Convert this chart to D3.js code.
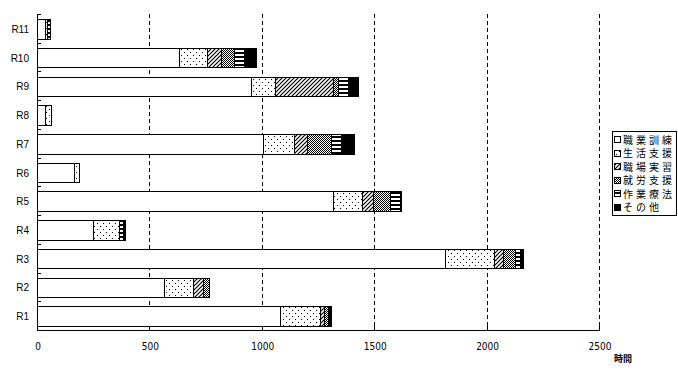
<!DOCTYPE html>
<html><head><meta charset="utf-8">
<script src="https://cdn.jsdelivr.net/npm/d3@7/dist/d3.min.js"></script>
<style>body{margin:0;background:#fff}svg{display:block}</style>
</head><body>
<svg id="c" width="678" height="380"></svg>
<script>
const categories = ["R1","R2","R3","R4","R5","R6","R7","R8","R9","R10","R11"];
const seriesNames = ["職業訓練","生活支援","職場実習","就労支援","作業療法","その他"];
const shokugyoKunren = [1081,569,1815,250,1318,165,1007,39,952,632,39];
const seikatsuShien  = [182,126,218,119,129,22,137,26,111,128,9];
const shokubaJisshu  = [18,44,40,0,52,0,61,0,254,62,0];
const shuroShien     = [15,27,55,0,75,0,104,0,25,58,0];
const sagyoRyoho     = [0,0,22,18,41,4,47,0,44,44,10];
const sonota         = [15,0,13,8,5,0,58,0,46,53,0];
const xTicks = [0,500,1000,1500,2000,2500];

const seriesValues = [shokugyoKunren, seikatsuShien, shokubaJisshu, shuroShien, sagyoRyoho, sonota];
const rows = categories.map((c,i)=>{const o={cat:c}; seriesNames.forEach((s,j)=>o[s]=seriesValues[j][i]); return o;});

const svg = d3.select("#c");
const L=37, R=599, T=14, B=330;
const x = d3.scaleLinear().domain([0,2500]).range([L,R]);
const y = d3.scaleBand().domain(categories.slice().reverse()).range([T,B]).paddingInner(0.32).paddingOuter(0.16);

// patterns
const defs = svg.append("defs");
function pat(id,w,h,fn){const p=defs.append("pattern").attr("id",id).attr("patternUnits","userSpaceOnUse").attr("width",w).attr("height",h);
 p.append("rect").attr("width",w).attr("height",h).attr("fill","#fff"); fn(p);}
pat("p0",4,4,p=>{});
pat("p1",6,6,p=>{p.append("rect").attr("x",1).attr("y",1).attr("width",1).attr("height",1).attr("fill","#000");
 p.append("rect").attr("x",4).attr("y",4).attr("width",1).attr("height",1).attr("fill","#000");});
pat("p2",4,4,p=>{p.append("path").attr("d","M0,4L4,0M-1,1L1,-1M3,5L5,3").attr("stroke","#000").attr("stroke-width",1.2);});
pat("p3",2,2,p=>{p.append("rect").attr("x",0).attr("y",0).attr("width",1).attr("height",1).attr("fill","#000");
 p.append("rect").attr("x",1).attr("y",1).attr("width",1).attr("height",1).attr("fill","#000");});
pat("p4",4,4,p=>{p.append("rect").attr("x",0).attr("y",0).attr("width",4).attr("height",2).attr("fill","#000");});
pat("p5",4,4,p=>{p.append("rect").attr("width",4).attr("height",4).attr("fill","#000");});
const fills = seriesNames.map((s,i)=>"url(#p"+i+")");

// gridlines
svg.append("g").selectAll("line").data(xTicks.filter(d=>d>0)).join("line")
 .attr("x1",d=>Math.round(x(d))+0.5).attr("x2",d=>Math.round(x(d))+0.5).attr("y1",T).attr("y2",B)
 .attr("stroke","#000").attr("stroke-dasharray","4,3");

// bars
const stack = d3.stack().keys(seriesNames)(rows);
const g = svg.append("g").attr("shape-rendering","crispEdges");
stack.forEach((layer,i)=>{
 g.selectAll(null).data(layer.filter(d=>d[1]-d[0]>0)).join("rect")
  .attr("x",d=>x(d[0])).attr("width",d=>x(d[1])-x(d[0]))
  .attr("y",d=>y(d.data.cat)+1).attr("height",y.bandwidth())
  .attr("fill",fills[i]).attr("stroke","#000").attr("stroke-width",1);
});

// axes
const ax = svg.append("g").attr("shape-rendering","crispEdges");
ax.append("line").attr("x1",L+0.5).attr("x2",L+0.5).attr("y1",T).attr("y2",B).attr("stroke","#000");
ax.append("line").attr("x1",L).attr("x2",R+1).attr("y1",B+0.5).attr("y2",B+0.5).attr("stroke","#000");
const bounds = d3.range(categories.length+1).map(i=>T+i*(B-T)/categories.length);
ax.selectAll(".yt").data(bounds).join("line").attr("x1",L).attr("x2",L+4).attr("y1",d=>Math.round(d)+0.5).attr("y2",d=>Math.round(d)+0.5).attr("stroke","#000");
ax.selectAll(".xt").data(xTicks).join("line").attr("x1",d=>Math.round(x(d))+0.5).attr("x2",d=>Math.round(x(d))+0.5).attr("y1",B-4).attr("y2",B).attr("stroke","#000");

svg.append("g").selectAll("text").data(xTicks).join("text")
 .attr("x",d=>x(d)+1).attr("y",350).attr("text-anchor","middle")
 .attr("font-family","'Liberation Sans Narrow','DejaVu Sans Condensed',sans-serif").attr("font-size",10).text(d=>d);
svg.append("g").selectAll("text").data(categories).join("text")
 .attr("x",29).attr("y",d=>y(d)+y.bandwidth()/2+4.5).attr("text-anchor","end")
 .attr("font-family","'Liberation Sans',Arial,sans-serif").attr("font-size",10).text(d=>d);
svg.append("text").attr("x",614).attr("y",362).attr("font-family","'Noto Sans CJK JP',sans-serif").attr("font-size",9).attr("font-weight","bold").text("時間");

// legend
const lg = svg.append("g");
lg.append("rect").attr("x",612.5).attr("y",131.5).attr("width",64).attr("height",84).attr("fill","#fff").attr("stroke","#000").attr("shape-rendering","crispEdges");
seriesNames.forEach((s,i)=>{
 const cy = 140 + i*13.5;
 lg.append("rect").attr("x",614.5).attr("y",cy-3.5).attr("width",6).attr("height",6).attr("fill",fills[i]).attr("stroke","#000").attr("shape-rendering","crispEdges");
 lg.append("text").attr("x",623).attr("y",cy+3.5).attr("font-family","'Noto Sans CJK JP',sans-serif").attr("font-size",10).attr("letter-spacing",3).text(s);
});
</script>
</body></html>
